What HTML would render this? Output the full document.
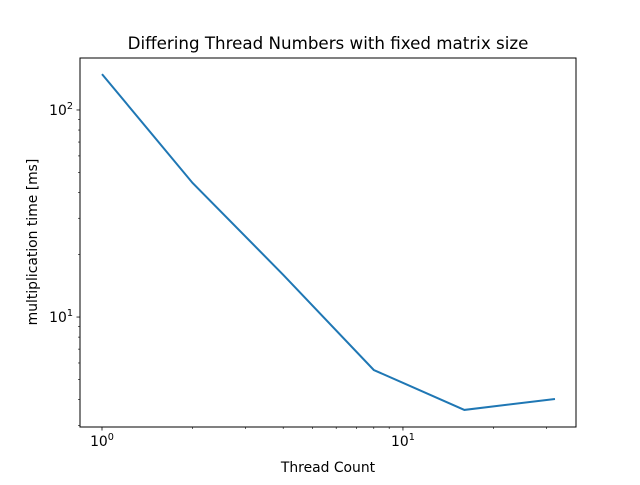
<!DOCTYPE html>
<html><head><meta charset="utf-8"><style>
body{margin:0;background:#fff}
svg text{font-family:"DejaVu Sans","Liberation Sans",sans-serif;fill:#000}
</style></head><body>
<svg id="chart" width="640" height="480" xmlns="http://www.w3.org/2000/svg">
<rect width="640" height="480" fill="#fff"/>
<text x="328" y="49" font-size="16.7" text-anchor="middle">Differing Thread Numbers with fixed matrix size</text>
<text x="328" y="472" font-size="13.9" text-anchor="middle">Thread Count</text>
<text transform="translate(37,242) rotate(-90)" font-size="13.9" text-anchor="middle">multiplication time [ms]</text>
<g id="ticks"></g>
<g id="plot"></g>
<rect x="80" y="58" width="496" height="369" fill="none" stroke="#000" stroke-width="1"/>
</svg>
<script>
const threads=[1,2,4,8,16,32];
const times=[149,44.4,16,5.55,3.56,4.02];
const xTickLabels=["0","1"];
const yTickLabels=["1","2"];
const X0=80,X1=576,Y0=58,Y1=427;
const xmin=-0.0731,xmax=1.575,ymin=0.469,ymax=2.251;
function sx(v){return X0+(Math.log10(v)-xmin)/(xmax-xmin)*(X1-X0);}
function sy(v){return Y1-(Math.log10(v)-ymin)/(ymax-ymin)*(Y1-Y0);}
const NS="http://www.w3.org/2000/svg";
const tg=document.getElementById('ticks');
function line(x1,y1,x2,y2,w,name){const l=document.createElementNS(NS,'line');
l.setAttribute('x1',x1);l.setAttribute('y1',y1);l.setAttribute('x2',x2);l.setAttribute('y2',y2);
l.setAttribute('stroke','#000');l.setAttribute('stroke-width',w);


tg.appendChild(l);}
function label(x,y,exp,anchor,name){const t=document.createElementNS(NS,'text');
t.setAttribute('x',x);t.setAttribute('y',y);t.setAttribute('font-size','13.9');t.setAttribute('text-anchor',anchor);
t.innerHTML='10<tspan font-size="9.7" dy="-6">'+exp+'</tspan>';


tg.appendChild(t);}
for(let d=0;d<2;d++){for(let m=1;m<10;m++){const v=m*Math.pow(10,d);const x=sx(v);if(x<X0||x>X1)continue;
line(x,Y1,x,Y1+(m==1?3.5:2),m==1?0.8:0.6,'x-tick');}}
xTickLabels.forEach(e=>label(sx(Math.pow(10,+e)),Y1+19,e,'middle','x-tick-label'));
for(let d=0;d<3;d++){for(let m=1;m<10;m++){const v=m*Math.pow(10,d);const y=sy(v);if(y<Y0||y>Y1)continue;
line(X0,y,X0-(m==1?3.5:2),y,m==1?0.8:0.6,'y-tick');}}
yTickLabels.forEach(e=>label(X0-7,sy(Math.pow(10,+e))+5,e,'end','y-tick-label'));
const p=document.createElementNS(NS,'polyline');
p.setAttribute('points',threads.map((t,i)=>sx(t)+','+sy(times[i])).join(' '));
p.setAttribute('fill','none');p.setAttribute('stroke','#1f77b4');p.setAttribute('stroke-width','2');


document.getElementById('plot').appendChild(p);
</script>
</body></html>
